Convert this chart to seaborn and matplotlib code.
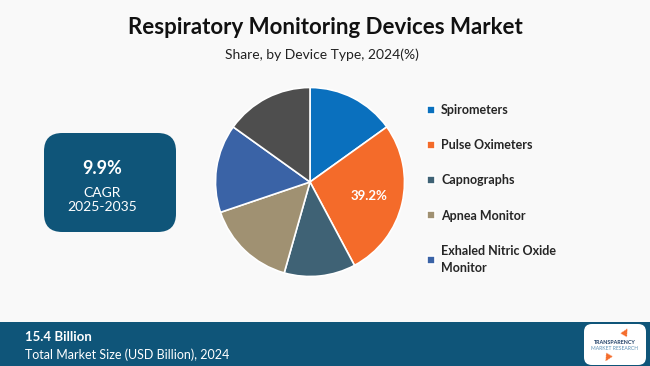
import matplotlib
matplotlib.use("Agg")
import numpy as np
import matplotlib.pyplot as plt
import seaborn as sns
from matplotlib.patches import FancyBboxPatch, Rectangle

# data
devices = ['Spirometers', 'Pulse Oximeters', 'Capnographs', 'Apnea Monitor',
           'Exhaled Nitric Oxide\nMonitor', 'Others']
shares = [15.1, 27.1, 12.2, 15.4, 15.1, 15.1]
highlight_label = '39.2%'
slice_colors = ['#0A70BE', '#F46B2A', '#3F6275', '#A09172', '#3A63A6', '#4E4E4E']

title = 'Respiratory Monitoring Devices Market'
subtitle = 'Share, by Device Type, 2024(%)'
cagr = '9.9%'
cagr_period = 'CAGR\n2025-2035'
market_size = '15.4 Billion'
market_label = 'Total Market Size (USD Billion), 2024'

sns.set_theme(style='white')
plt.rcParams['font.family'] = ['Lato', 'DejaVu Sans']

bg = '#F9F9F9'
navy = '#0F5579'
W, H = 650, 366

fig = plt.figure(figsize=(6.5, 3.66), dpi=100, facecolor=bg)

# pie
cx, cy, r = 310, 182, 94.5
ax = fig.add_axes([(cx - r) / W, 1 - (cy + r) / H, 2 * r / W, 2 * r / H])
ax.set_facecolor(bg)
wedges, _ = ax.pie(shares, colors=sns.color_palette(slice_colors), startangle=90,
                   counterclock=False,
                   wedgeprops=dict(edgecolor='white', linewidth=1.2))
ax.set_xlim(-1, 1)
ax.set_ylim(-1, 1)
ax.axis('off')

# label in the orange slice
mid = 90 - (shares[0] + shares[1] / 2) / sum(shares) * 360
ax.text(0.64 * np.cos(np.radians(mid)), 0.64 * np.sin(np.radians(mid)), highlight_label,
        color='white', fontsize=9.5, fontweight='bold', ha='center', va='center')

# legend (Others slice has no entry)
leg = fig.legend(wedges[:5], devices[:5], loc='upper left',
                 bbox_to_anchor=(416 / W, 1 - 93 / H),
                 frameon=False, handlelength=0.6, handleheight=0.6, handletextpad=0.5,
                 labelspacing=1.85, prop=dict(weight='bold', size=9))
for t in leg.get_texts():
    t.set_linespacing(1.55)

# titles
fig.text(0.5, 1 - 27 / H, title, ha='center', va='center', fontsize=16, fontweight='bold',
         color='#111111')
fig.text(0.495, 1 - 55 / H, subtitle, ha='center', va='center', fontsize=10, color='#222222')

# CAGR box
box = FancyBboxPatch((44 / W, 1 - 232 / H), 132 / W, 99 / H,
                     boxstyle='round,pad=0,rounding_size=0.028', transform=fig.transFigure,
                     facecolor=navy, edgecolor='none', mutation_aspect=W / H)
fig.add_artist(box)
fig.text(102 / W, 1 - 168 / H, cagr, ha='center', va='center', fontsize=13,
         fontweight='bold', color='white')
fig.text(102 / W, 1 - 200 / H, cagr_period, ha='center', va='center', fontsize=10,
         color='white', linespacing=1.15)

# bottom band
fig.add_artist(Rectangle((0, 0), 1, 44 / H, transform=fig.transFigure, facecolor=navy,
                         edgecolor='none'))
fig.text(25 / W, 1 - 337 / H, market_size, ha='left', va='center', fontsize=9.5,
         fontweight='bold', color='white')
fig.text(25 / W, 1 - 355 / H, market_label, ha='left', va='center', fontsize=9,
         color='white')

# logo
logo = FancyBboxPatch((584 / W, 1 - 365 / H), 62 / W, 41 / H,
                      boxstyle='round,pad=0,rounding_size=0.012', transform=fig.transFigure,
                      facecolor='white', edgecolor='none', mutation_aspect=W / H)
fig.add_artist(logo)
fig.text(615 / W, 1 - 343 / H, 'TRANSPARENCY', ha='center', va='center', fontsize=3.9,
         fontweight='bold', color='#1F3F66')
fig.text(615 / W, 1 - 349 / H, 'MARKET RESEARCH', ha='center', va='center', fontsize=3.6,
         color='#5A8FB5')
fig.text(625 / W, 1 - 332 / H, '\u25b2', ha='center', va='center', fontsize=7,
         color='#F46B2A', rotation=-30)
fig.text(607 / W, 1 - 358 / H, '\u25bc', ha='center', va='center', fontsize=7,
         color='#F46B2A', rotation=-30)

fig.savefig('out.png', dpi=100, facecolor=bg)
